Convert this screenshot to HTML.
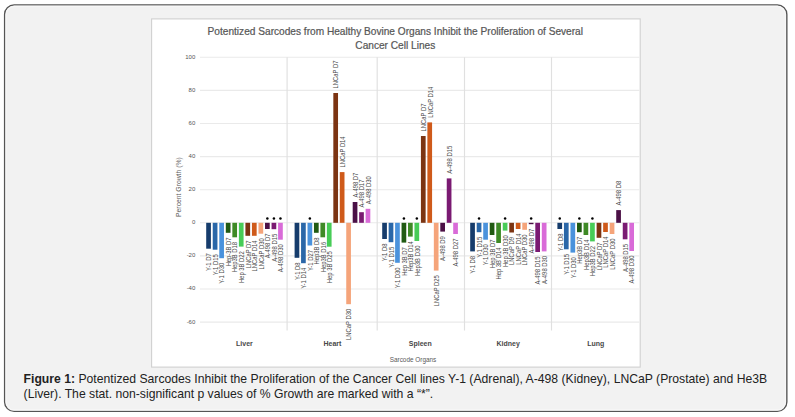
<!DOCTYPE html><html><head><meta charset="utf-8"><style>
html,body{margin:0;padding:0;background:#fff;}
body{width:795px;height:417px;overflow:hidden;position:relative;font-family:"Liberation Sans",sans-serif;}

svg{position:absolute;left:0;top:0;}
.cap{position:absolute;left:23.6px;top:372.4px;font-size:12.19px;line-height:14.8px;color:#222;white-space:nowrap;}
.cap b{color:#222;}
</style></head><body>
<svg width="795" height="417" viewBox="0 0 795 417" font-family="Liberation Sans, sans-serif">
<rect x="4.6" y="4.9" width="782.25" height="406.5" rx="9.5" ry="9.5" fill="#f2f2f2" stroke="#555" stroke-width="1.35"/>
<rect x="6.1" y="6.4" width="779.25" height="403.5" rx="8" ry="8" fill="none" stroke="#f7f7f7" stroke-width="1.2"/>
<rect x="151.6" y="18.9" width="488.6" height="348.2" fill="#fff" stroke="#d0d0d0" stroke-width="1.1"/>
<g fill="#575757" stroke="#575757" stroke-width="0.22" font-size="10.14" text-anchor="middle">
<text x="395.3" y="34.6">Potentized Sarcodes from Healthy Bovine Organs Inhibit the Proliferation of Several</text>
<text x="395.3" y="49.1">Cancer Cell Lines</text></g>
<g stroke="#eaeaea" stroke-width="1.1">
<line x1="200" y1="57.30" x2="639.5" y2="57.30"/>
<line x1="200" y1="90.40" x2="639.5" y2="90.40"/>
<line x1="200" y1="123.50" x2="639.5" y2="123.50"/>
<line x1="200" y1="156.60" x2="639.5" y2="156.60"/>
<line x1="200" y1="189.70" x2="639.5" y2="189.70"/>
<line x1="200" y1="222.80" x2="639.5" y2="222.80"/>
<line x1="200" y1="255.90" x2="639.5" y2="255.90"/>
<line x1="200" y1="289.00" x2="639.5" y2="289.00"/>
<line x1="200" y1="322.10" x2="639.5" y2="322.10"/>
</g><g stroke="#e0e0e0" stroke-width="1.15">
<line x1="287.1" y1="57.3" x2="287.1" y2="330.5"/>
<line x1="377.2" y1="57.3" x2="377.2" y2="330.5"/>
<line x1="464.5" y1="57.3" x2="464.5" y2="330.5"/>
<line x1="551.5" y1="57.3" x2="551.5" y2="330.5"/>
</g>
<g fill="#555" font-size="6.0" text-anchor="end">
<text x="195.3" y="58.70">100</text>
<text x="195.3" y="91.80">80</text>
<text x="195.3" y="124.90">60</text>
<text x="195.3" y="158.00">40</text>
<text x="195.3" y="191.10">20</text>
<text x="195.3" y="224.20">0</text>
<text x="195.3" y="257.30">-20</text>
<text x="195.3" y="290.40">-40</text>
<text x="195.3" y="323.50">-60</text>
</g>
<text transform="translate(180.9,187.1) rotate(-90)" text-anchor="middle" fill="#595959" font-size="6.8">Percent Growth (%)</text>
<g>
<rect x="206.20" y="222.80" width="4.7" height="25.90" fill="#163c6c"/>
<rect x="212.74" y="222.80" width="4.7" height="26.90" fill="#2a67a8"/>
<rect x="219.27" y="222.80" width="4.7" height="35.40" fill="#4a92dc"/>
<rect x="225.81" y="222.80" width="4.7" height="10.00" fill="#215a12"/>
<rect x="232.34" y="222.80" width="4.7" height="14.50" fill="#3e8a26"/>
<rect x="238.88" y="222.80" width="4.7" height="23.80" fill="#47cc57"/>
<rect x="245.42" y="222.80" width="4.7" height="13.00" fill="#7c3412"/>
<rect x="251.95" y="222.80" width="4.7" height="13.00" fill="#cf5a1a"/>
<rect x="258.49" y="222.80" width="4.7" height="10.90" fill="#f5a47a"/>
<rect x="265.02" y="222.80" width="4.7" height="6.20" fill="#4b1046"/>
<rect x="271.56" y="222.80" width="4.7" height="6.40" fill="#7a1a72"/>
<rect x="278.10" y="222.80" width="4.7" height="16.90" fill="#d96bd8"/>
<rect x="294.60" y="222.80" width="4.7" height="35.00" fill="#163c6c"/>
<rect x="301.06" y="222.80" width="4.7" height="40.40" fill="#2a67a8"/>
<rect x="307.51" y="222.80" width="4.7" height="22.70" fill="#4a92dc"/>
<rect x="313.97" y="222.80" width="4.7" height="10.00" fill="#215a12"/>
<rect x="320.42" y="222.80" width="4.7" height="14.50" fill="#3e8a26"/>
<rect x="326.88" y="222.80" width="4.7" height="23.90" fill="#47cc57"/>
<rect x="333.33" y="93.00" width="4.7" height="129.80" fill="#7c3412"/>
<rect x="339.79" y="172.10" width="4.7" height="50.70" fill="#cf5a1a"/>
<rect x="346.24" y="222.80" width="4.7" height="81.40" fill="#f5a47a"/>
<rect x="352.70" y="202.00" width="4.7" height="20.80" fill="#4b1046"/>
<rect x="359.15" y="212.20" width="4.7" height="10.60" fill="#7a1a72"/>
<rect x="365.61" y="208.80" width="4.7" height="14.00" fill="#d96bd8"/>
<rect x="382.20" y="222.80" width="4.7" height="16.20" fill="#163c6c"/>
<rect x="388.65" y="222.80" width="4.7" height="19.40" fill="#2a67a8"/>
<rect x="395.11" y="222.80" width="4.7" height="40.00" fill="#4a92dc"/>
<rect x="401.56" y="222.80" width="4.7" height="19.80" fill="#215a12"/>
<rect x="408.02" y="222.80" width="4.7" height="13.80" fill="#3e8a26"/>
<rect x="414.47" y="222.80" width="4.7" height="18.20" fill="#47cc57"/>
<rect x="420.93" y="136.00" width="4.7" height="86.80" fill="#7c3412"/>
<rect x="427.38" y="122.40" width="4.7" height="100.40" fill="#cf5a1a"/>
<rect x="433.84" y="222.80" width="4.7" height="47.80" fill="#f5a47a"/>
<rect x="440.29" y="222.80" width="4.7" height="8.80" fill="#4b1046"/>
<rect x="446.75" y="178.40" width="4.7" height="44.40" fill="#7a1a72"/>
<rect x="453.20" y="222.80" width="4.7" height="11.20" fill="#d96bd8"/>
<rect x="470.20" y="222.80" width="4.7" height="28.60" fill="#163c6c"/>
<rect x="476.71" y="222.80" width="4.7" height="9.40" fill="#2a67a8"/>
<rect x="483.22" y="222.80" width="4.7" height="16.90" fill="#4a92dc"/>
<rect x="489.73" y="222.80" width="4.7" height="12.20" fill="#215a12"/>
<rect x="496.24" y="222.80" width="4.7" height="20.20" fill="#3e8a26"/>
<rect x="502.75" y="222.80" width="4.7" height="7.80" fill="#47cc57"/>
<rect x="509.26" y="222.80" width="4.7" height="9.70" fill="#7c3412"/>
<rect x="515.77" y="222.80" width="4.7" height="6.20" fill="#cf5a1a"/>
<rect x="522.28" y="222.80" width="4.7" height="7.00" fill="#f5a47a"/>
<rect x="528.79" y="222.80" width="4.7" height="1.40" fill="#4b1046"/>
<rect x="535.30" y="222.80" width="4.7" height="29.20" fill="#7a1a72"/>
<rect x="541.81" y="222.80" width="4.7" height="28.60" fill="#d96bd8"/>
<rect x="557.40" y="222.80" width="4.7" height="6.20" fill="#163c6c"/>
<rect x="563.94" y="222.80" width="4.7" height="26.50" fill="#2a67a8"/>
<rect x="570.47" y="222.80" width="4.7" height="29.80" fill="#4a92dc"/>
<rect x="577.01" y="222.80" width="4.7" height="9.40" fill="#215a12"/>
<rect x="583.54" y="222.80" width="4.7" height="12.20" fill="#3e8a26"/>
<rect x="590.08" y="222.80" width="4.7" height="18.60" fill="#47cc57"/>
<rect x="596.62" y="222.80" width="4.7" height="15.00" fill="#7c3412"/>
<rect x="603.15" y="222.80" width="4.7" height="9.20" fill="#cf5a1a"/>
<rect x="609.69" y="222.80" width="4.7" height="11.20" fill="#f5a47a"/>
<rect x="616.22" y="210.10" width="4.7" height="12.70" fill="#4b1046"/>
<rect x="622.76" y="222.80" width="4.7" height="16.50" fill="#7a1a72"/>
<rect x="629.30" y="222.80" width="4.7" height="28.20" fill="#d96bd8"/>
</g>
<g fill="#000">
<circle cx="267.37" cy="218.5" r="1.25"/>
<circle cx="273.91" cy="218.5" r="1.25"/>
<circle cx="280.45" cy="218.5" r="1.25"/>
<circle cx="309.86" cy="218.5" r="1.25"/>
<circle cx="403.92" cy="218.5" r="1.25"/>
<circle cx="416.82" cy="218.5" r="1.25"/>
<circle cx="479.06" cy="218.5" r="1.25"/>
<circle cx="505.10" cy="218.5" r="1.25"/>
<circle cx="531.14" cy="218.5" r="1.25"/>
<circle cx="559.75" cy="218.5" r="1.25"/>
<circle cx="579.36" cy="218.5" r="1.25"/>
<circle cx="592.43" cy="218.5" r="1.25"/>
</g>
<g fill="#4a4a4a" font-size="6.3" style="white-space:pre">
<text transform="translate(211.35,253.30) rotate(-90) scale(0.93,1)" text-anchor="end">Y-1  D7</text>
<text transform="translate(217.89,254.30) rotate(-90) scale(0.93,1)" text-anchor="end">Y-1  D15</text>
<text transform="translate(224.42,262.80) rotate(-90) scale(0.93,1)" text-anchor="end">Y-1 D30</text>
<text transform="translate(230.96,237.40) rotate(-90) scale(0.93,1)" text-anchor="end">Hep-3B D7</text>
<text transform="translate(237.49,241.90) rotate(-90) scale(0.93,1)" text-anchor="end">Hep3B D18</text>
<text transform="translate(244.03,251.20) rotate(-90) scale(0.93,1)" text-anchor="end">Hep 3B D22</text>
<text transform="translate(250.57,240.40) rotate(-90) scale(0.93,1)" text-anchor="end">LNCaP D7</text>
<text transform="translate(257.10,240.40) rotate(-90) scale(0.93,1)" text-anchor="end">LNCaP D14</text>
<text transform="translate(263.64,238.30) rotate(-90) scale(0.93,1)" text-anchor="end">LNCaP D30</text>
<text transform="translate(270.17,233.60) rotate(-90) scale(0.93,1)" text-anchor="end">A-498 D7</text>
<text transform="translate(276.71,233.80) rotate(-90) scale(0.93,1)" text-anchor="end">A-498 D15</text>
<text transform="translate(283.25,244.30) rotate(-90) scale(0.93,1)" text-anchor="end">A-498 D30</text>
<text transform="translate(299.75,262.40) rotate(-90) scale(0.93,1)" text-anchor="end">Y-1 D8</text>
<text transform="translate(306.21,267.80) rotate(-90) scale(0.93,1)" text-anchor="end">Y-1 D14</text>
<text transform="translate(312.66,250.10) rotate(-90) scale(0.93,1)" text-anchor="end">Y-1 D27</text>
<text transform="translate(319.12,237.40) rotate(-90) scale(0.93,1)" text-anchor="end">Hep3B D8</text>
<text transform="translate(325.57,241.90) rotate(-90) scale(0.93,1)" text-anchor="end">Hep3B D16</text>
<text transform="translate(332.03,251.30) rotate(-90) scale(0.93,1)" text-anchor="end">Hep 3B D25</text>
<text transform="translate(338.48,88.40) rotate(-90) scale(0.93,1)" text-anchor="start">LNCaP D7</text>
<text transform="translate(344.94,167.50) rotate(-90) scale(0.93,1)" text-anchor="start">LNCaP D14</text>
<text transform="translate(351.39,308.80) rotate(-90) scale(0.93,1)" text-anchor="end">LNCaP D30</text>
<text transform="translate(357.85,197.40) rotate(-90) scale(0.93,1)" text-anchor="start">A-498 D7</text>
<text transform="translate(364.30,207.60) rotate(-90) scale(0.93,1)" text-anchor="start">A-498 D17</text>
<text transform="translate(370.76,204.20) rotate(-90) scale(0.93,1)" text-anchor="start">A-498 D30</text>
<text transform="translate(387.35,243.60) rotate(-90) scale(0.93,1)" text-anchor="end">Y-1 D8</text>
<text transform="translate(393.81,246.80) rotate(-90) scale(0.93,1)" text-anchor="end">Y-1 D15</text>
<text transform="translate(400.26,267.40) rotate(-90) scale(0.93,1)" text-anchor="end">Y-1 D30</text>
<text transform="translate(406.72,247.20) rotate(-90) scale(0.93,1)" text-anchor="end">Hep 3B D7</text>
<text transform="translate(413.17,241.20) rotate(-90) scale(0.93,1)" text-anchor="end">Hep3B D14</text>
<text transform="translate(419.62,245.60) rotate(-90) scale(0.93,1)" text-anchor="end">Hep3B D30</text>
<text transform="translate(426.08,131.40) rotate(-90) scale(0.93,1)" text-anchor="start">LNCaP D7</text>
<text transform="translate(432.54,117.80) rotate(-90) scale(0.93,1)" text-anchor="start">LNCaP D14</text>
<text transform="translate(438.99,275.20) rotate(-90) scale(0.93,1)" text-anchor="end">LNCaP D25</text>
<text transform="translate(445.44,236.20) rotate(-90) scale(0.93,1)" text-anchor="end">A-498 D9</text>
<text transform="translate(451.90,173.80) rotate(-90) scale(0.93,1)" text-anchor="start">A-498 D15</text>
<text transform="translate(458.36,238.60) rotate(-90) scale(0.93,1)" text-anchor="end">A-498 D27</text>
<text transform="translate(475.35,256.00) rotate(-90) scale(0.93,1)" text-anchor="end">Y-1 D8</text>
<text transform="translate(481.86,236.80) rotate(-90) scale(0.93,1)" text-anchor="end">Y-1 D15</text>
<text transform="translate(488.37,244.30) rotate(-90) scale(0.93,1)" text-anchor="end">Y-1 D30</text>
<text transform="translate(494.88,239.60) rotate(-90) scale(0.93,1)" text-anchor="end">Hep 3B D7</text>
<text transform="translate(501.39,247.60) rotate(-90) scale(0.93,1)" text-anchor="end">Hep 3B D14</text>
<text transform="translate(507.90,235.20) rotate(-90) scale(0.93,1)" text-anchor="end">Hep 3B D30</text>
<text transform="translate(514.41,237.10) rotate(-90) scale(0.93,1)" text-anchor="end">LNCaP D9</text>
<text transform="translate(520.92,233.60) rotate(-90) scale(0.93,1)" text-anchor="end">LNCaP D14</text>
<text transform="translate(527.43,234.40) rotate(-90) scale(0.93,1)" text-anchor="end">LNCaP D30</text>
<text transform="translate(533.94,228.80) rotate(-90) scale(0.93,1)" text-anchor="end">A-498 D7</text>
<text transform="translate(540.45,256.60) rotate(-90) scale(0.93,1)" text-anchor="end">A-498 D15</text>
<text transform="translate(546.96,256.00) rotate(-90) scale(0.93,1)" text-anchor="end">A-498 D30</text>
<text transform="translate(562.55,233.60) rotate(-90) scale(0.93,1)" text-anchor="end">Y-1 D8</text>
<text transform="translate(569.09,253.90) rotate(-90) scale(0.93,1)" text-anchor="end">Y-1 D15</text>
<text transform="translate(575.62,257.20) rotate(-90) scale(0.93,1)" text-anchor="end">Y-1 D30</text>
<text transform="translate(582.16,236.80) rotate(-90) scale(0.93,1)" text-anchor="end">Hep3B D7</text>
<text transform="translate(588.69,239.60) rotate(-90) scale(0.93,1)" text-anchor="end">Hep3B D14</text>
<text transform="translate(595.23,246.00) rotate(-90) scale(0.93,1)" text-anchor="end">Hep3B D22</text>
<text transform="translate(601.77,242.40) rotate(-90) scale(0.93,1)" text-anchor="end">LNCaP D7</text>
<text transform="translate(608.30,236.60) rotate(-90) scale(0.93,1)" text-anchor="end">LNCaP D14</text>
<text transform="translate(614.84,238.60) rotate(-90) scale(0.93,1)" text-anchor="end">LNCaP D30</text>
<text transform="translate(621.37,205.50) rotate(-90) scale(0.93,1)" text-anchor="start">A-498 D8</text>
<text transform="translate(627.91,243.90) rotate(-90) scale(0.93,1)" text-anchor="end">A-498 D15</text>
<text transform="translate(634.45,255.60) rotate(-90) scale(0.93,1)" text-anchor="end">A-498 D30</text>
</g>
<g fill="#484848" font-size="7.6" font-weight="bold" text-anchor="middle">
<text transform="translate(244.4,345.9) scale(0.92,1)">Liver</text>
<text transform="translate(332.4,345.9) scale(0.92,1)">Heart</text>
<text transform="translate(420.3,345.9) scale(0.92,1)">Spleen</text>
<text transform="translate(508.2,345.9) scale(0.92,1)">Kidney</text>
<text transform="translate(595.8,345.9) scale(0.92,1)">Lung</text>
</g>
<text x="413" y="362" text-anchor="middle" fill="#595959" font-size="6.4">Sarcode Organs</text>
</svg>
<div class="cap"><b>Figure 1:</b> Potentized Sarcodes Inhibit the Proliferation of the Cancer Cell lines Y-1 (Adrenal), A-498 (Kidney), LNCaP (Prostate) and He3B<br>(Liver). The stat. non-significant p values of % Growth are marked with a “*”.</div>
</body></html>
